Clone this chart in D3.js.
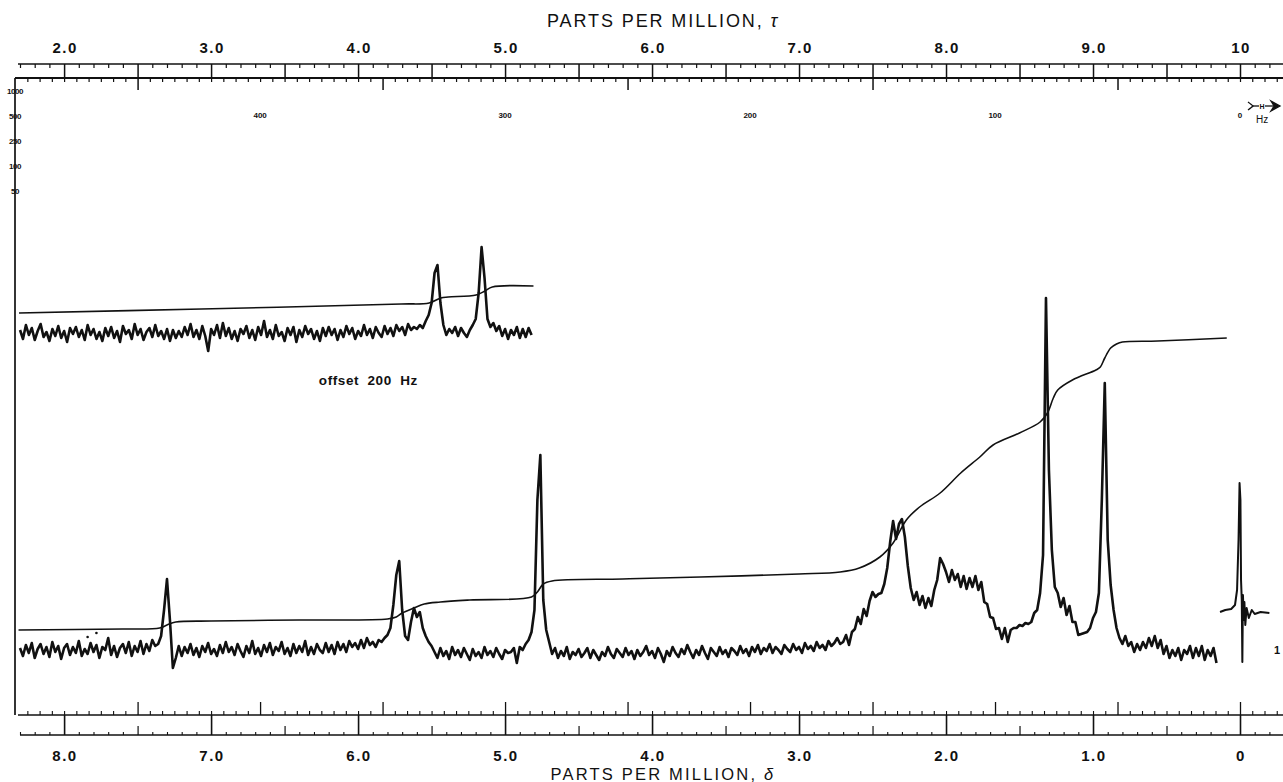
<!DOCTYPE html>
<html><head><meta charset="utf-8">
<script src="https://cdn.jsdelivr.net/npm/d3@7"></script>
<style>
body{margin:0;background:#fff}
svg{display:block}
text{font-family:"Liberation Sans",Arial,Helvetica,sans-serif;fill:#111}
</style>
</head><body>
<svg id="chart" width="1283" height="782"></svg>
<script>
// ---------------- DATA ----------------
const spectrometerMHz = 60;
const insetOffsetHz = 200;
const traceStep = 0.02; // ppm between samples

const deltaTicks = [8, 7, 6, 5, 4, 3, 2, 1, 0];
const deltaTickLabels = ["8.0", "7.0", "6.0", "5.0", "4.0", "3.0", "2.0", "1.0", "0"];
const tauTicks = [2, 3, 4, 5, 6, 7, 8, 9, 10];
const tauTickLabels = ["2.0", "3.0", "4.0", "5.0", "6.0", "7.0", "8.0", "9.0", "10"];
const hzTicks = [400, 300, 200, 100, 0];
const hzTickLabels = ["400", "300", "200", "100", "0"];
const gainLabels = ["1000", "500", "250", "100", "50"];

// main spectrum, sampled every 0.02 ppm (start = delta of first sample)
const segAStart = 8.30;
const segA = [2,-6,5,-3,7,-8,1,6,-4,3,-7,8,-2,4,-9,2,6,-5,3,-3,9,-6,1,-4,7,-2,5,-8,3,0,12,-5,4,-7,2,6,-3,8,-6,4,-2,9,-4,6,-1,10,4];
const peak730Start = 7.36;
const peak730 = [6,14,40,71,30,-18];
const segBStart = 7.24;
const segB = [-8,4,-6,3,-3,6,-5,2,-7,4,-2,7,-4,1,-6,5,-3,8,-2,3,-5,6,-1,-7,4,-3,9,-4,2,-6,5,-2,7,-5,3,-1,8,-4,2,-6,6,-3,4,-2,9,-5,3,-4,6,0,-3,7,-2,5,-4,8,0,6,-2,9,3,7,1,10,2,12,5];
const peak572Start = 5.90;
const peak572 = [8,3,10,8,12,15,22,45,75,89,40,14,10,28,42,33,38,22,14,8,4];
const segCStart = 5.48;
const segC = [-2,-8,2,-6,-1,-9,3,-5,0,-7,2,-4,-10,1,-6,-2,-8,3,-5,-1,-7,2,-4,-9,0,-3];
const peak477Start = 4.96;
const peak477 = [-2,2,-13,3,0,6,10,18,40,150,195,50,20,8];
const segDStart = 4.68;
const segD = [-4,2,-8,-1,-6,3,-9,-2,-5,1,-7,-3,2,-8,0,-5,-10,-2,-6,3,-4,-8,1,-3,-7,2,-5,-1,-9,0,-6,-2,4,-5,-1,-8,2,-4,-12,-1,-6,3,-3,-7,1,-4,5,-2,-8,0,-5,4,-3,-9,2,-2,-6,3,-4,0,-7,2,-1,-5,4,-3,1,-6,3,-2,5,-4,2,-1,6,-3,3,0,-4,5,1,-2,6,0,3,-3,7,1,4,-1,8,2,5,0,9,4,7,12,6];
const segEStart = 2.70;
const segE = [8,15,5,18,21,33,26,41,34,49,58,53,56,57,66,82,108,129,111,126,131,113,84,62,50,58,45,54,42,52,44,60,70,92,86,78,68,80,70,76,63,74,61,72,63,74,60,68,48,46,33,32,21,22,11,22,8,20,22,22,25,24,27,26,28,37,40,57,95,352,180,100,63,57,43,52,35,44,28,28,15,16,17,18,22,32,38,57,150,267,110,65,40,22,12,6,14,4,8,-2,6,0,8,2,12,4,14,2,10,-4,4,-8,0,-6,2,-10,0,-4,4,-8,2,-6,4,-10,0,-6,2,-13];

// TMS reference signal (separate trace) [delta, intensity]
const tmsTrace = [[0.136,38],[0.10,40],[0.06,41],[0.034,45],[0.02,60],[0.01,110],[0.003,167],[-0.003,150],[-0.007,70],[-0.012,50],[-0.016,-12],[-0.020,55],[-0.026,30],[-0.030,48],[-0.036,25],[-0.045,42],[-0.06,32],[-0.08,40],[-0.10,36],[-0.14,38],[-0.20,37]];

// main integral trace [delta, height]
const mainIntegral = [[8.31,20],[7.60,21],[7.35,22],[7.30,25],[7.24,28],[7.00,29],[6.40,30],[5.80,31],[5.74,33],[5.70,37],[5.62,42],[5.55,46],[5.44,48],[5.24,50],[4.82,53],[4.78,58],[4.74,66],[4.68,69],[4.20,71],[3.67,73],[3.00,76],[2.72,78],[2.59,82],[2.45,93],[2.36,107],[2.27,130],[2.18,143],[2.04,157],[1.90,177],[1.77,193],[1.68,205],[1.50,217],[1.36,228],[1.31,237],[1.27,252],[1.24,260],[1.14,270],[0.98,280],[0.95,283],[0.92,292],[0.88,302],[0.84,306],[0.80,308],[0.56,309],[0.09,312]];

// inset (offset 200 Hz), true delta of samples
const insetAStart = 11.633;
const insetA = [3,-6,8,-2,5,-7,2,9,-4,1,-8,4,-3,7,-5,2,-9,5,-1,6,-4,3,-7,8,-2,4,-6,1,-8,5,-3,6,-5,2,-9,7,-1,3,-6,9,-2,4,-7,1,5,-4,8,-3,2,-6,4,-8,3,-5,2,-4,6,-2,9,-4,3,-6,7,-3,-18,4,-2,8,-5,10,-3,5,-6,2,-8,4,-1,7,-5,3,-7,6,-2,12,-4,3,-6,8,-3,1,-8,5,-2,6,-9,3,-4,7,-1,4,-6,2,-8,5,-3,6,-2,4,-7,3,-4,7,-1,5,-6,2,-3,8,-2,4,-5,6,0,-4,7,-1,5,-3,8,2,6,-2,9,3,6];
const insetBStart = 8.933;
const insetB = [4,8,5,12,18,30,60,68,30,8,-2,4,0,6,-3,5,0,-4,3,8,14,40,86,55,14,6,10,2,7,-3,4,-6,3,-2,6,-5,4,-4,5,-2];
const insetIntegral = [[11.64,20],[10.40,24],[9.04,29],[8.85,30],[8.77,35],[8.72,36],[8.53,38],[8.47,42],[8.42,46],[8.14,47]];

// stray specks on the chart paper [delta, height]
const specks = [[7.84,13],[7.78,17]];

// ---------------- DRAW ----------------
const svg = d3.select("#chart");
const W = 1283;
const ink = "#111";

const x = d3.scaleLinear().domain([8.30, 0]).range([20, 1240]);
const xTau = d3.scaleLinear().domain([10 - 8.30, 10]).range([20, 1240]);
const xHz = d3.scaleLinear().domain([8.30 * spectrometerMHz, 0]).range([20, 1240]);
const yMain = d3.scaleLinear().domain([0, 360]).range([650, 290]);
const yInset = d3.scaleLinear().domain([0, 100]).range([333, 233]);
const offsetPpm = insetOffsetHz / spectrometerMHz;

function seg(start, vals) { return vals.map((v, i) => [start - i * traceStep, v]); }
const mainTrace = [].concat(
  seg(segAStart, segA), seg(peak730Start, peak730), seg(segBStart, segB),
  seg(peak572Start, peak572), seg(segCStart, segC), seg(peak477Start, peak477),
  seg(segDStart, segD), seg(segEStart, segE));
const insetTrace = [].concat(seg(insetAStart, insetA), seg(insetBStart, insetB));

// frame lines
const frame = svg.append("g").attr("stroke", ink).attr("fill", "none");
const yTauLine = 64, yHzTop = 78, yHzBot = 715, yDeltaLine = 735;
frame.append("line").attr("x1", 18).attr("x2", W).attr("y1", yTauLine).attr("y2", yTauLine).attr("stroke-width", 1.6);
frame.append("line").attr("x1", 15).attr("x2", W).attr("y1", yHzTop).attr("y2", yHzTop).attr("stroke-width", 1.8);
frame.append("line").attr("x1", 18).attr("x2", W).attr("y1", yHzBot).attr("y2", yHzBot).attr("stroke-width", 1.6);
frame.append("line").attr("x1", 20).attr("x2", W).attr("y1", yDeltaLine).attr("y2", yDeltaLine).attr("stroke-width", 1.4);
frame.append("line").attr("x1", 15).attr("x2", 15).attr("y1", yHzTop).attr("y2", yHzBot).attr("stroke-width", 1.7);

function tickSet(axisFn, scale, values, size, y, sw) {
  const g = svg.append("g").attr("transform", `translate(0,${y})`)
    .call(axisFn(scale).tickValues(values).tickSize(size).tickFormat(""));
  g.select(".domain").remove();
  g.selectAll(".tick line").attr("stroke", ink).attr("stroke-width", sw);
  return g;
}
const inRange = (s) => (v) => s(v) >= 17 && s(v) <= W;
const r = (a, b, st) => d3.range(Math.round(a / st), Math.round(b / st) + 1).map(i => +(i * st).toFixed(4));
const isHalf = v => Math.abs(v * 2 - Math.round(v * 2)) < 1e-6;
const isWhole = v => Math.abs(v - Math.round(v)) < 1e-6;

// top tau scale: ticks downward
const tauAll = r(1.7, 10.3, 0.1).filter(inRange(xTau));
tickSet(d3.axisBottom, xTau, tauAll.filter(t => !isHalf(t)), 4, yTauLine, 1.2);
tickSet(d3.axisBottom, xTau, tauAll.filter(isHalf), yHzTop - yTauLine, yTauLine, 1.5);
// top Hz scale: ticks downward
const hzAll = r(-20, 500, 5).filter(inRange(xHz));
tickSet(d3.axisBottom, xHz, hzAll.filter(h => h % 50 !== 0 || h % 100 === 0), 4, yHzTop, 1.2);
tickSet(d3.axisBottom, xHz, hzAll.filter(h => h % 50 === 0 && h % 100 !== 0), 12, yHzTop, 1.5);
// bottom Hz scale: ticks upward
tickSet(d3.axisTop, xHz, hzAll.filter(h => h % 50 !== 0), 4, yHzBot, 1.1);
tickSet(d3.axisTop, xHz, hzAll.filter(h => h % 50 === 0), 13, yHzBot, 1.3);
// bottom delta scale: ticks upward
const dAll = r(-0.2, 8.3, 0.1).filter(inRange(x));
tickSet(d3.axisTop, x, dAll.filter(d => !isHalf(d)), 3, yDeltaLine, 1.1);
tickSet(d3.axisTop, x, dAll.filter(d => isHalf(d) && !isWhole(d)), 9, yDeltaLine, 1.2);
tickSet(d3.axisTop, x, dAll.filter(isWhole), yDeltaLine - yHzBot, yDeltaLine, 1.6);

// text layer (tiny rotation -> grayscale antialiasing)
const txt = svg.append("g").attr("transform", "rotate(0.01,640,400)");

txt.append("g").selectAll("text").data(tauTicks).join("text")
  .attr("x", d => xTau(d) + 1).attr("y", 53).attr("text-anchor", "middle")
  .attr("font-size", 15).attr("font-weight", "bold").attr("letter-spacing", 1.5)
  .text((d, i) => tauTickLabels[i]);
txt.append("g").selectAll("text").data(deltaTicks).join("text")
  .attr("x", d => x(d) + 1).attr("y", 761).attr("text-anchor", "middle")
  .attr("font-size", 15).attr("font-weight", "bold").attr("letter-spacing", 1.5)
  .text((d, i) => deltaTickLabels[i]);
txt.append("g").selectAll("text").data(hzTicks).join("text")
  .attr("x", d => xHz(d)).attr("y", 118).attr("text-anchor", "middle")
  .attr("font-size", 8).attr("font-weight", "bold")
  .text((d, i) => hzTickLabels[i]);

// gain scale at the left
const yGain = d3.scalePoint().domain(gainLabels).range([91, 191]);
txt.append("g").selectAll("text").data(gainLabels).join("text")
  .attr("x", 15).attr("y", d => yGain(d) + 3).attr("text-anchor", "middle")
  .attr("font-size", 8).attr("font-weight", "bold").attr("letter-spacing", -0.4)
  .text(d => d);

// Hz direction symbol
const hx = xHz(0);
const sym = svg.append("g").attr("stroke", ink).attr("fill", "none").attr("stroke-width", 1.3);
sym.append("path").attr("d", `M${hx + 8},102 Q${hx + 12},105 ${hx + 13},106 Q${hx + 12},107 ${hx + 8},110`);
sym.append("line").attr("x1", hx + 13).attr("x2", hx + 33).attr("y1", 106).attr("y2", 106);
sym.append("path").attr("d", `M${hx + 31},101 L${hx + 40},106 L${hx + 31},111 L${hx + 34},106 Z`).attr("fill", ink);
svg.append("rect").attr("x", hx + 19).attr("y", 102).attr("width", 6).attr("height", 8).attr("fill", "#fff");
const txt2 = svg.append("g").attr("transform", "rotate(0.01,640,400)");
txt2.append("text").attr("x", hx + 22).attr("y", 108.5).attr("text-anchor", "middle").attr("font-size", 7).attr("font-weight", "bold").text("H");
txt2.append("text").attr("x", hx + 22).attr("y", 123).attr("text-anchor", "middle").attr("font-size", 10).text("Hz");

// titles
const t1 = txt2.append("text").attr("x", 663).attr("y", 27).attr("text-anchor", "middle")
  .attr("font-size", 18).attr("letter-spacing", 1.9);
t1.append("tspan").text("PARTS PER MILLION, ");
t1.append("tspan").attr("font-style", "italic").text("τ");
const t2 = txt2.append("text").attr("x", 663).attr("y", 780).attr("text-anchor", "middle")
  .attr("font-size", 16.5).attr("letter-spacing", 2.2);
t2.append("tspan").text("PARTS PER MILLION, ");
t2.append("tspan").attr("font-style", "italic").text("δ");

// traces
const lineMain = d3.line().x(d => x(d[0])).y(d => yMain(d[1]));
const lineInset = d3.line().x(d => x(d[0] - offsetPpm)).y(d => yInset(d[1]));
const smoothMain = d3.line().x(d => x(d[0])).y(d => yMain(d[1])).curve(d3.curveCatmullRom.alpha(0.5));
const smoothInset = d3.line().x(d => x(d[0] - offsetPpm)).y(d => yInset(d[1])).curve(d3.curveCatmullRom.alpha(0.5));

const traces = svg.append("g").attr("fill", "none").attr("stroke", ink).attr("stroke-linejoin", "round");
traces.append("path").attr("d", lineInset(insetTrace)).attr("stroke-width", 2.6);
traces.append("path").attr("d", smoothInset(insetIntegral)).attr("stroke-width", 1.6);
traces.append("path").attr("d", lineMain(mainTrace)).attr("stroke-width", 2.6);
traces.append("path").attr("d", smoothMain(mainIntegral)).attr("stroke-width", 1.6);
traces.append("path").attr("d", lineMain(tmsTrace)).attr("stroke-width", 2);

svg.append("g").selectAll("circle").data(specks).join("circle")
  .attr("cx", d => x(d[0])).attr("cy", d => yMain(d[1])).attr("r", 1.3).attr("fill", ink);

// annotations
txt2.append("text").attr("x", x(5.93)).attr("y", 385).attr("text-anchor", "middle")
  .attr("font-size", 13.5).attr("font-weight", "bold").attr("letter-spacing", 0.6).attr("word-spacing", 4).text("offset 200 Hz");
txt2.append("text").attr("x", x(0) + 37).attr("y", yMain(-4)).attr("text-anchor", "middle")
  .attr("font-size", 11).attr("font-weight", "bold").text("1");
</script>
</body></html>
